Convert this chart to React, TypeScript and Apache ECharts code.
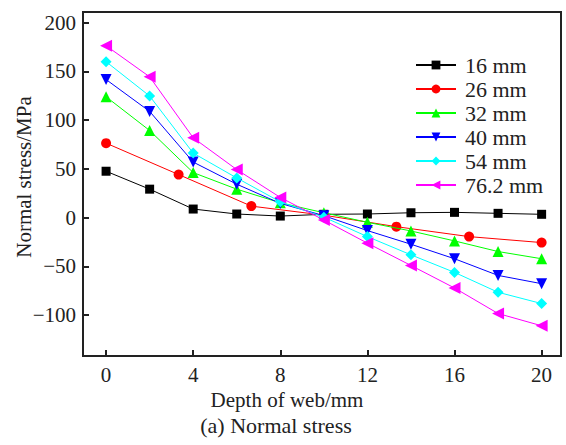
import React, { useEffect, useRef } from "react";
import * as echarts from "echarts";

const seriesNames = ["16 mm", "26 mm", "32 mm", "40 mm", "54 mm", "76.2 mm"];
const colors = ["#000000", "#ff0000", "#00ff00", "#0000ff", "#00ffff", "#ff00ff"];
const symbols = ["rect", "circle", "triangle", "triangle", "diamond", "triangle"];
const symbolRotates = [0, 0, 0, 180, 0, 90];
const symbolSizes = [9, 10, 11, 11, 11, 12];

const depth2 = [0, 2, 4, 6, 8, 10, 12, 14, 16, 18, 20];
const depthRed = [0, 3.33, 6.67, 10, 13.33, 16.67, 20];

const s16 = [47.6, 29.2, 8.8, 3.7, 1.6, 3.4, 3.7, 5.0, 5.4, 4.4, 3.4];
const s26 = [76.4, 44.2, 11.8, 2.5, -9.3, -19.5, -25.6];
const s32 = [124, 89.4, 46.2, 29.2, 15.2, 5.0, -4.8, -13.7, -23.9, -34.8, -42.2];
const s40 = [141.7, 109, 57, 34.3, 14.6, 2.0, -13.3, -27.3, -42.2, -59.3, -67.8];
const s54 = [160, 124.8, 66.2, 40.7, 16.2, 0.5, -19.5, -38.2, -56.2, -76.6, -88.2];
const s762 = [176.4, 144.5, 81.9, 49.3, 20.7, -2.5, -26.2, -49.1, -72.2, -98.4, -111];

const xTicks = [0, 4, 8, 12, 16, 20];
const yTicks = [-100, -50, 0, 50, 100, 150, 200];

const FONT = "'Liberation Serif', 'DejaVu Serif', serif";

export default function App() {
  const ref = useRef<HTMLDivElement>(null);
  useEffect(() => {
    if (!ref.current) return;
    const chart = echarts.init(ref.current, null, { renderer: "svg" });
    const values = [s16, s26, s32, s40, s54, s762];
    const series = values.map((vals, i) => {
      const xs = i === 1 ? depthRed : depth2;
      return {
        name: seriesNames[i],
        type: "line",
        data: vals.map((v, j) => [xs[j], v]),
        symbol: symbols[i],
        symbolSize: symbolSizes[i],
        symbolRotate: symbolRotates[i],
        showAllSymbol: true,
        lineStyle: { color: colors[i], width: 1 },
        itemStyle: { color: colors[i] },
        z: 2 + i,
      };
    });
    const axisColor = "#222";
    chart.setOption({
      animation: false,
      backgroundColor: "#ffffff",
      grid: {
        left: 83,
        right: 5,
        top: 12,
        bottom: 89,
        show: true,
        borderColor: axisColor,
        borderWidth: 2,
      },
      legend: {
        left: 415,
        top: 53,
        padding: 0,
        orient: "vertical",
        itemWidth: 40,
        itemHeight: 11,
        itemGap: 0,
        data: seriesNames,
        textStyle: {
          fontFamily: FONT,
          fontSize: 22,
          color: "#222",
          lineHeight: 24,
          padding: [0, 0, 0, 4],
        },
      },
      xAxis: {
        type: "value",
        min: -1.06,
        max: 20.89,
        axisLine: { show: true, onZero: false, lineStyle: { color: axisColor, width: 2 } },
        axisTick: { show: true, inside: true, length: 6, lineStyle: { width: 2, color: axisColor }, customValues: xTicks },
        axisLabel: { customValues: xTicks, fontFamily: FONT, fontSize: 21, color: "#222", margin: 8 },
        splitLine: { show: false },
      },
      yAxis: {
        type: "value",
        min: -142,
        max: 211,
        axisLine: { show: true, onZero: false, lineStyle: { color: axisColor, width: 2 } },
        axisTick: { show: true, inside: true, length: 6, lineStyle: { width: 2, color: axisColor }, customValues: yTicks },
        axisLabel: {
          customValues: yTicks,
          fontFamily: FONT,
          fontSize: 21,
          color: "#222",
          margin: 7,
          formatter: (v: number) => (v < 0 ? "\u2212" + Math.abs(v) : String(v)),
        },
        splitLine: { show: false },
      },
      graphic: [
        {
          type: "text",
          x: 24,
          y: 177,
          rotation: Math.PI / 2,
          style: {
            text: "Normal stress/MPa",
            fontFamily: FONT,
            fontSize: 21,
            fill: "#222",
            align: "center",
            verticalAlign: "middle",
          },
        },
        {
          type: "text",
          x: 287,
          y: 400,
          style: {
            text: "Depth of web/mm",
            fontFamily: FONT,
            fontSize: 21,
            fill: "#222",
            align: "center",
            verticalAlign: "middle",
          },
        },
        {
          type: "text",
          x: 276,
          y: 425,
          style: {
            text: "(a) Normal stress",
            fontFamily: FONT,
            fontSize: 22,
            fill: "#222",
            align: "center",
            verticalAlign: "middle",
          },
        },
      ],
      series,
    });
    return () => chart.dispose();
  }, []);
  return (
    <div
      ref={ref}
      style={{ position: "fixed", left: 0, top: 0, width: 566, height: 445 }}
    />
  );
}
